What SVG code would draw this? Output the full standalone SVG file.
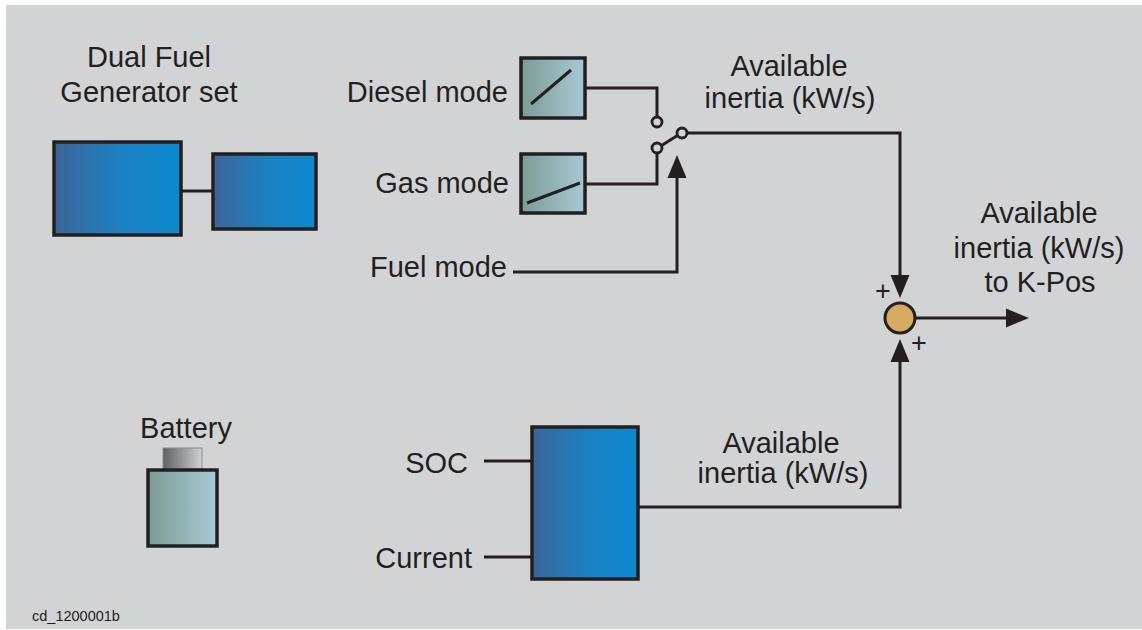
<svg xmlns="http://www.w3.org/2000/svg" width="1142" height="630" viewBox="0 0 1142 630">
<style>
text{font-family:"Liberation Sans",Arial,sans-serif;font-size:29px;fill:#231f20}
.m{text-anchor:middle}.e{text-anchor:end}
.w{stroke:#231f20;stroke-width:3;fill:none}
.bx{stroke:#231f20;stroke-width:3.5}
.c{fill:#d2d3d5;stroke:#231f20;stroke-width:2.8}
</style>
<defs>
<linearGradient id="blue" x1="0" y1="0" x2="1" y2="0">
<stop offset="0" stop-color="#3d6598"/><stop offset="0.55" stop-color="#1a82c4"/><stop offset="1" stop-color="#0d8ad0"/>
</linearGradient>
<linearGradient id="teal" x1="0" y1="0" x2="1" y2="0">
<stop offset="0" stop-color="#7c9c95"/><stop offset="1" stop-color="#a7c9d4"/>
</linearGradient>
<linearGradient id="term" x1="0" y1="0" x2="1" y2="0">
<stop offset="0" stop-color="#5f6065"/><stop offset="1" stop-color="#cfd0d2"/>
</linearGradient>
<marker id="ah" markerUnits="userSpaceOnUse" markerWidth="24" markerHeight="20" refX="2" refY="10" orient="auto" viewBox="0 0 24 20">
<path d="M0,0.5 L23,10 L0,19.5 Z" fill="#231f20"/>
</marker>
</defs>
<rect x="0" y="0" width="1142" height="630" fill="#ffffff"/>
<rect x="6" y="5" width="1136" height="624" fill="#d2d3d5"/>

<g id="generator">
<text class="m" x="149" y="67">Dual Fuel</text>
<text class="m" x="149" y="102">Generator set</text>
<rect class="bx" x="54" y="142" width="127" height="93" fill="url(#blue)"/>
<rect class="bx" x="213" y="154" width="103" height="75" fill="url(#blue)"/>
<line class="w" x1="181" y1="191" x2="213" y2="191"/>
</g>

<g id="diesel">
<text class="e" x="508" y="102">Diesel mode</text>
<rect class="bx" x="521" y="58" width="64" height="60" fill="url(#teal)"/>
<line class="w" x1="531" y1="104" x2="571" y2="70"/>
</g>

<g id="gas">
<text class="e" x="509" y="193">Gas mode</text>
<rect class="bx" x="521" y="154" width="64" height="59" fill="url(#teal)"/>
<line class="w" x1="527" y1="203" x2="580" y2="183"/>
</g>

<g id="fuelmode">
<text class="e" x="507" y="277">Fuel mode</text>
</g>

<g id="switch">
<circle class="c" cx="657" cy="122" r="5"/>
<circle class="c" cx="657" cy="148" r="5"/>
<circle class="c" cx="682" cy="133" r="5"/>
<line class="w" x1="661.5" y1="145.5" x2="677.5" y2="135.5"/>
</g>

<g id="label-top">
<text class="m" x="789" y="76">Available</text>
<text class="m" x="790" y="108">inertia (kW/s)</text>
</g>

<g id="sum">
<circle cx="900" cy="318" r="15" fill="#d5aa63" stroke="#231f20" stroke-width="3"/>
<text class="m" x="883" y="300" style="font-size:27px">+</text>
<text class="m" x="919" y="352" style="font-size:27px">+</text>
</g>

<g id="label-out">
<text class="m" x="1039" y="223">Available</text>
<text class="m" x="1039" y="258">inertia (kW/s)</text>
<text class="m" x="1040" y="292">to K-Pos</text>
</g>

<g id="battery">
<text class="m" x="186" y="438">Battery</text>
<rect x="163" y="448" width="39" height="21" fill="url(#term)" stroke="#8a8b8e" stroke-width="1"/>
<rect class="bx" x="148" y="470" width="69" height="76" fill="url(#teal)"/>
</g>

<g id="battery-ctrl">
<text class="e" x="468" y="473">SOC</text>
<text class="e" x="472" y="568">Current</text>
<rect class="bx" x="532" y="427" width="106" height="152" fill="url(#blue)"/>
</g>

<g id="label-bottom">
<text class="m" x="781" y="453">Available</text>
<text class="m" x="783" y="483">inertia (kW/s)</text>
</g>

<g id="connectors">
<polyline class="w" points="585,88 657,88 657,117"/>
<polyline class="w" points="585,184 657,184 657,153"/>
<polyline class="w" points="513,272 677,272 677,176" marker-end="url(#ah)"/>
<polyline class="w" points="687,133 900,133 900,277" marker-end="url(#ah)"/>
<polyline class="w" points="638,507 900,507 900,360" marker-end="url(#ah)"/>
<line class="w" x1="915" y1="318" x2="1008" y2="318" marker-end="url(#ah)"/>
<line class="w" x1="484" y1="461" x2="532" y2="461"/>
<line class="w" x1="484" y1="557" x2="532" y2="557"/>
</g>

<text x="32" y="621" style="font-size:14.5px">cd_1200001b</text>
</svg>
